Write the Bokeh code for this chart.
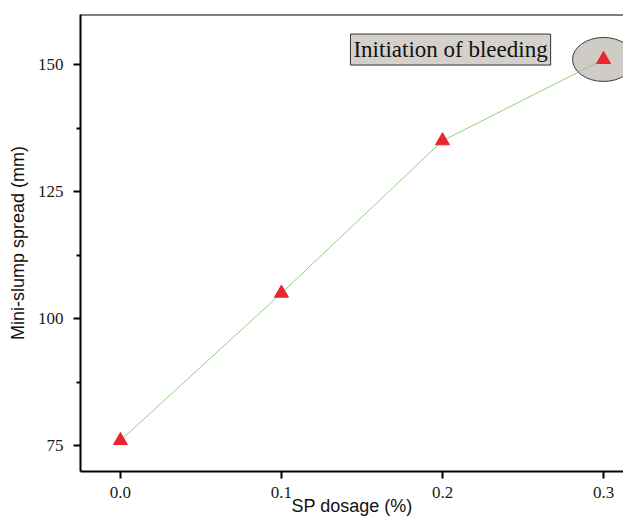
from bokeh.plotting import figure
from bokeh.models import Range1d, FixedTicker, Label, Span
from bokeh.embed import file_html
from bokeh.resources import INLINE

# data
sp_dosage = [0.0, 0.1, 0.2, 0.3]
spread = [76, 105, 135, 151]
x_ticks = [0.0, 0.1, 0.2, 0.3]
x_tick_labels = ["0.0", "0.1", "0.2", "0.3"]
y_ticks = [75, 100, 125, 150]
y_minor = [87.5, 112.5, 137.5]
bleed_x = [0.3]
bleed_y = [151]
note_text = "Initiation of bleeding"
x_title = "SP dosage (%)"
y_title = "Mini-slump spread (mm)"

X0, X1 = -0.0248, 0.3124
Y0, Y1 = 69.9, 159.85

p = figure(width=623, height=518, output_backend="svg", toolbar_location=None,
           x_range=Range1d(X0, X1), y_range=Range1d(Y0, Y1),
           min_border_left=80, min_border_right=0, min_border_top=14, min_border_bottom=47)
p.outline_line_color = None
p.xgrid.visible = False
p.ygrid.visible = False
p.background_fill_color = "white"
p.border_fill_color = "white"

# top frame line
p.add_layout(Span(location=Y1, dimension="width", line_color="black", line_width=2))

for ax in (p.xaxis[0], p.yaxis[0]):
    ax.axis_line_color = "black"
    ax.axis_line_width = 2
    ax.major_tick_line_color = "black"
    ax.major_tick_line_width = 2
    ax.major_tick_out = 7
    ax.major_tick_in = 0
    ax.minor_tick_line_color = "black"
    ax.minor_tick_line_width = 2
    ax.minor_tick_out = 4
    ax.minor_tick_in = 0
    ax.major_label_text_font = "Liberation Serif"
    ax.major_label_text_font_size = "17px"
    ax.major_label_text_color = "#1a1a1a"
    ax.axis_label_text_font = "Liberation Sans"
    ax.axis_label_text_font_size = "18px"
    ax.axis_label_text_font_style = "normal"
    ax.axis_label_text_color = "#111111"

p.xaxis.ticker = FixedTicker(ticks=x_ticks, minor_ticks=[])
p.xaxis.major_label_overrides = {t: l for t, l in zip(x_ticks, x_tick_labels)}
p.xaxis.major_label_standoff = 8
p.xaxis.axis_label = x_title
p.xaxis.axis_label_standoff = -5

p.yaxis.ticker = FixedTicker(ticks=y_ticks, minor_ticks=y_minor)
p.yaxis.major_label_standoff = 10
p.yaxis.axis_label = y_title
p.yaxis.axis_label_standoff = 7

# highlight ellipse
p.ellipse(x=bleed_x, y=bleed_y, width=62, height=44, width_units="screen", height_units="screen",
          fill_color="#cfcbc7", line_color="#3a3a3a", line_width=1)

p.line(sp_dosage, spread, line_color="#8fd07e", line_width=1)
p.scatter(sp_dosage, spread, marker="triangle", size=14, fill_color="#e8262b", line_color="#e8262b")

p.add_layout(Label(x=0.205, y=152.95, text=note_text, text_align="center", text_baseline="middle",
                   text_font="Liberation Serif", text_font_size="23px", text_color="#111111",
                   background_fill_color="#d4d0cc", border_line_color="#333333", border_line_width=1,
                   padding=3))

open("out.html", "w").write(file_html(p, INLINE))
